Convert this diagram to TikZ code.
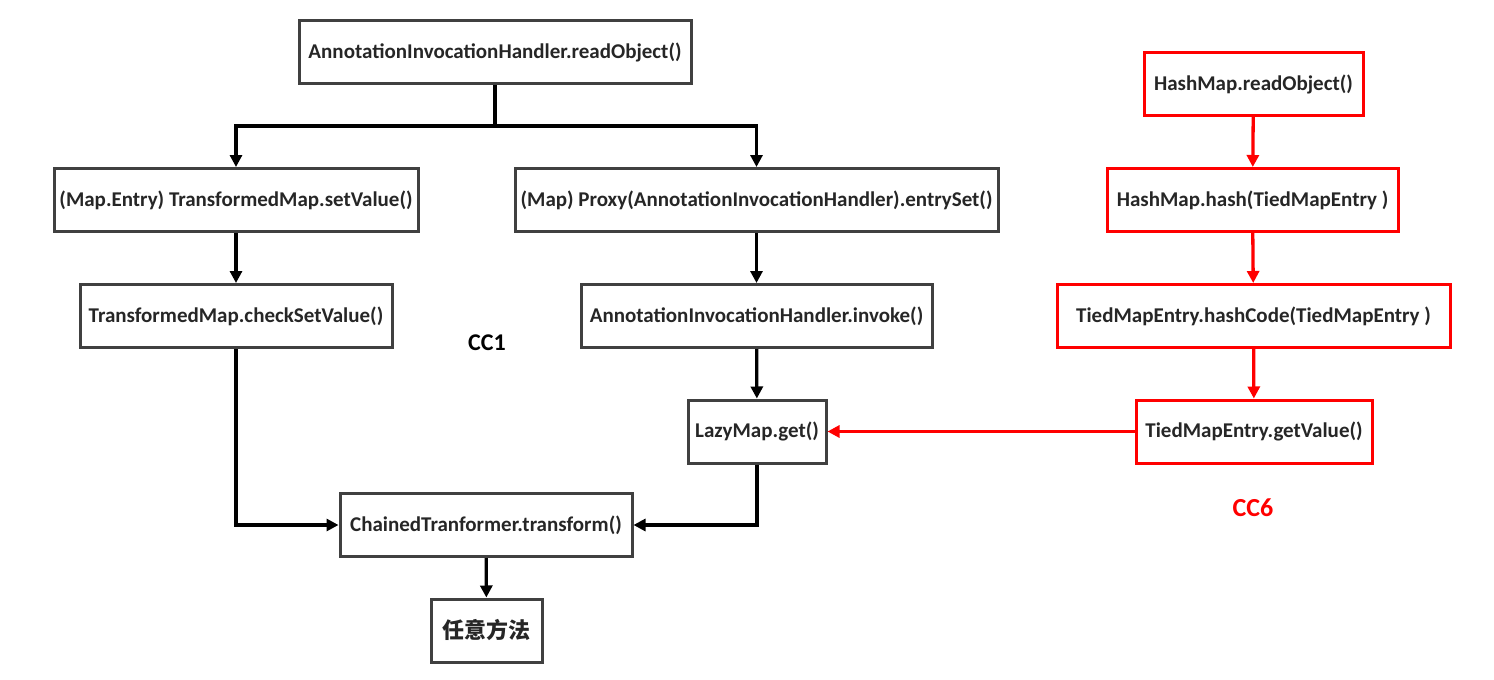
\documentclass[tikz,border=0pt]{standalone}
\usepackage{fontspec}
\setmainfont{Carlito}
\newfontfamily\cjkfont{Noto Sans CJK SC}
\usetikzlibrary{arrows.meta}
\begin{document}
\begin{tikzpicture}[x=1pt, y=-1pt,
	font=\fontsize{21}{25}\selectfont\bfseries,
	call/.style = { draw=black!75, line width=3pt, inner sep=0pt, minimum height=63pt, text=black!85 },
	cccall/.style = { call, draw=red },
	flow/.style = { line width=3.3pt, -{Triangle[length=12pt,width=12pt]} },
	ccflow/.style = { flow, draw=red }]
	\useasboundingbox (0,0) rectangle (1494,680);
	% CC1 chain
	\node [call, minimum width=392pt] (aihread) at (495,52) { AnnotationInvocationHandler.readObject() };
	\node [call, minimum width=364pt] (setvalue) at (236,200) { (Map.Entry) TransformedMap.setValue() };
	\node [call, minimum width=483pt] (entryset) at (756.5,200) { (Map) Proxy(AnnotationInvocationHandler).entrySet() };
	\node [call, minimum width=312pt] (checkset) at (236,316) { TransformedMap.checkSetValue() };
	\node [call, minimum width=351pt] (aihinvoke) at (756.5,316) { AnnotationInvocationHandler.invoke() };
	\node [call, minimum width=138pt] (lazyget) at (757,431.5) { LazyMap.get() };
	\node [call, minimum width=292pt] (chained) at (486,525) { ChainedTranformer.transform() };
	\node [call, minimum width=111pt] (anymethod) at (486.5,630.5) { \cjkfont\fontsize{22}{26}\selectfont 任意方法 };
	\node [font=\fontsize{24}{28}\selectfont\bfseries] (cc1) at (487,343) { CC1 };
	% CC6 chain
	\node [cccall, minimum width=219pt] (hmread) at (1253.5,84) { HashMap.readObject() };
	\node [cccall, minimum width=291pt] (hmhash) at (1252.5,200) { HashMap.hash(TiedMapEntry ) };
	\node [cccall, minimum width=393pt] (tmehash) at (1253.5,316) { TiedMapEntry.hashCode(TiedMapEntry ) };
	\node [cccall, minimum width=236pt] (tmeget) at (1254,431.5) { TiedMapEntry.getValue() };
	\node [text=red, font=\fontsize{26}{30}\selectfont\bfseries] (cc6) at (1253,508) { CC6 };
	% connectors
	\coordinate (fork) at (495,126);
	\draw [line width=3.3pt] (aihread) -- (fork);
	\draw [flow] (fork) -| (setvalue);
	\draw [flow] (fork) -| (entryset);
	\draw [flow] (setvalue) -- (checkset);
	\draw [flow] (entryset) -- (aihinvoke);
	\draw [flow] (aihinvoke) -- (lazyget);
	\draw [flow] (checkset) |- (chained);
	\draw [flow] (lazyget) |- (chained);
	\draw [flow] (chained) -- (anymethod);
	\draw [ccflow] (hmread) -- (hmhash);
	\draw [ccflow] (hmhash) -- (tmehash);
	\draw [ccflow] (tmehash) -- (tmeget);
	\draw [ccflow] (tmeget) -- (lazyget);
\end{tikzpicture}
\end{document}
